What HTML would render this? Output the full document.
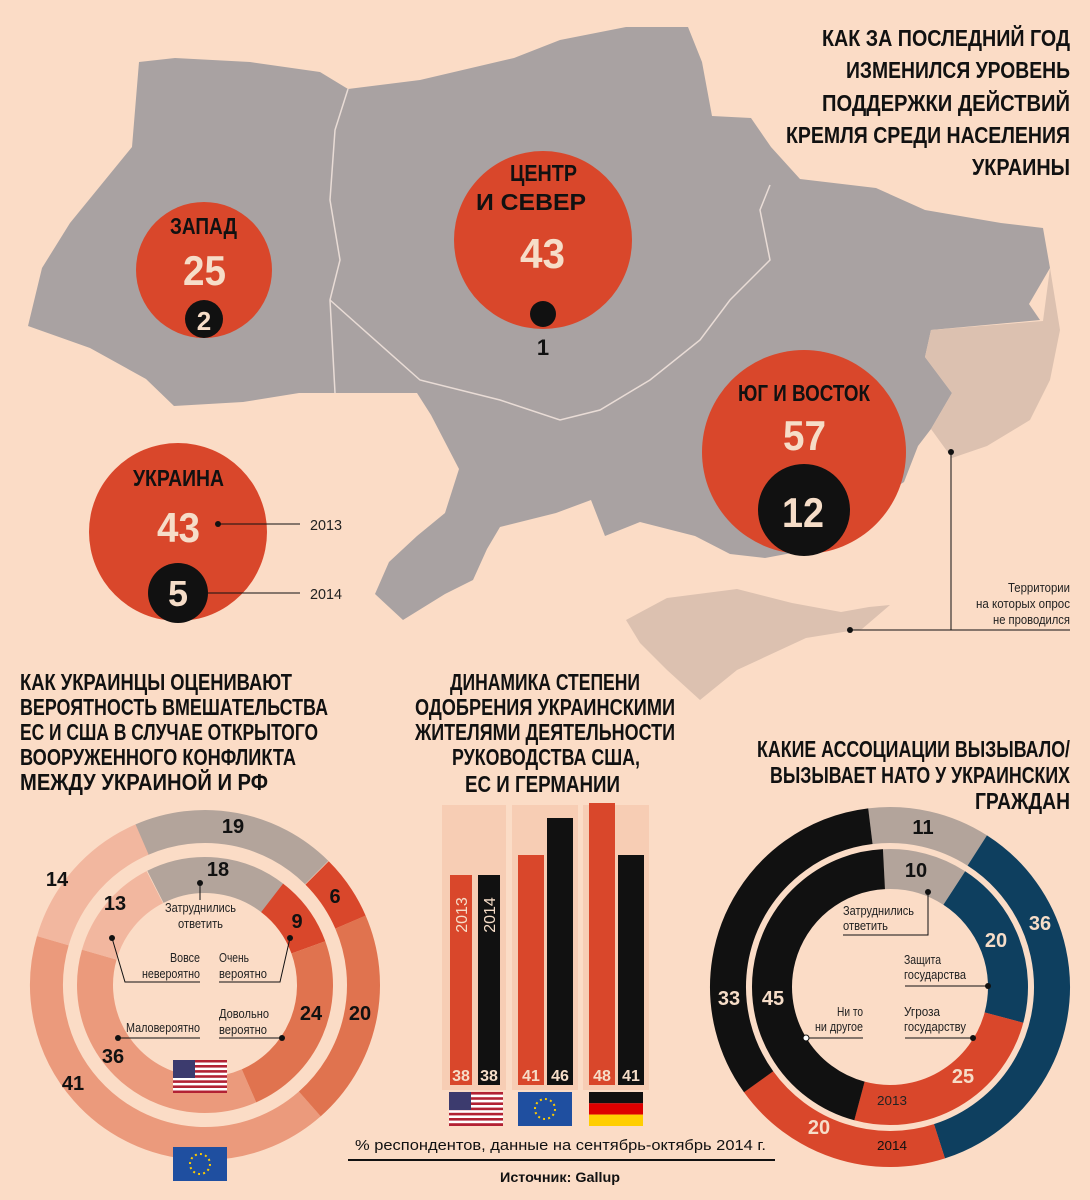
<!DOCTYPE html>
<html><head><meta charset="utf-8"><style>
body{margin:0;background:#fbdcc6;}
svg{display:block;font-family:"Liberation Sans",sans-serif;}
.h{font-size:23px;font-weight:bold;fill:#111;}
</style></head><body>
<svg width="1090" height="1200" viewBox="0 0 1090 1200" xmlns="http://www.w3.org/2000/svg">
<rect width="1090" height="1200" fill="#fbdcc6"/>
<!-- map -->
<polygon fill="#a9a2a2" points="139,62 175,58 250,62 320,72 348,89 420,80 514,58 560,40 626,27 688,27 702,62 712,116 751,118 771,147 800,179 876,188 925,210 1001,223 1043,228 1050,268 1029,304 1040,320 931,330 925,357 952,393 931,429 918,446 904,482 862,509 813,549 765,558 730,554 695,536 640,522 605,536 591,500 556,513 500,527 487,549 473,580 445,594 403,620 375,594 389,562 417,536 445,513 459,469 431,415 417,393 299,393 243,402 174,406 146,379 90,348 28,326 42,268 70,223 132,147"/>
<polygon fill="#dcc1b0" points="1043,321 1050,268 1060,330 1050,380 1030,420 987,446 952,458 931,429 952,393 925,357 931,330"/>
<polygon fill="#dcc1b0" points="626,620 667,598 737,589 792,603 841,612 869,607 890,605 862,629 806,638 737,670 700,700 667,670 640,643"/>
<polyline fill="none" stroke="#e9dcd6" stroke-width="1.5" points="348,89 335,130 330,200 340,260 330,300 335,393"/>
<polyline fill="none" stroke="#e9dcd6" stroke-width="1.5" points="330,300 420,380 500,400 560,420 600,410 650,380 700,340 730,300 770,260 760,210 770,185"/>
<!-- circles -->
<circle cx="204" cy="270" r="68" fill="#d9472b"/>
<circle cx="204" cy="319" r="19" fill="#111"/>
<text x="170" y="234" class="h" textLength="67" lengthAdjust="spacingAndGlyphs">ЗАПАД</text>
<text x="183" y="285" font-size="42" font-weight="bold" fill="#f6ddc8" textLength="43" lengthAdjust="spacingAndGlyphs">25</text>
<text x="204" y="330" font-size="26" font-weight="bold" fill="#f6ddc8" text-anchor="middle">2</text>
<circle cx="543" cy="240" r="89" fill="#d9472b"/>
<circle cx="543" cy="314" r="13" fill="#111"/>
<text x="510" y="181" class="h" textLength="67" lengthAdjust="spacingAndGlyphs">ЦЕНТР</text>
<text x="476" y="210" class="h" textLength="110" lengthAdjust="spacingAndGlyphs">И СЕВЕР</text>
<text x="520" y="268" font-size="42" font-weight="bold" fill="#f6ddc8" textLength="45" lengthAdjust="spacingAndGlyphs">43</text>
<text x="543" y="355" font-size="22" font-weight="bold" fill="#111" text-anchor="middle">1</text>
<circle cx="804" cy="452" r="102" fill="#d9472b"/>
<circle cx="804" cy="510" r="46" fill="#111"/>
<text x="738" y="401" class="h" textLength="132" lengthAdjust="spacingAndGlyphs">ЮГ И ВОСТОК</text>
<text x="783" y="450" font-size="42" font-weight="bold" fill="#f6ddc8" textLength="43" lengthAdjust="spacingAndGlyphs">57</text>
<text x="782" y="527" font-size="42" font-weight="bold" fill="#f6ddc8" textLength="42" lengthAdjust="spacingAndGlyphs">12</text>
<circle cx="178" cy="532" r="89" fill="#d9472b"/>
<circle cx="178" cy="593" r="30" fill="#111"/>
<text x="133" y="486" class="h" textLength="91" lengthAdjust="spacingAndGlyphs">УКРАИНА</text>
<text x="157" y="542" font-size="42" font-weight="bold" fill="#f6ddc8" textLength="43" lengthAdjust="spacingAndGlyphs">43</text>
<text x="178" y="606" font-size="36" font-weight="bold" fill="#f6ddc8" text-anchor="middle">5</text>
<circle cx="218" cy="524" r="3" fill="#111"/><line x1="218" y1="524" x2="300" y2="524" stroke="#111"/>
<line x1="205" y1="593" x2="300" y2="593" stroke="#111"/>
<text x="310" y="530" font-size="15" fill="#222" textLength="32" lengthAdjust="spacingAndGlyphs">2013</text>
<text x="310" y="599" font-size="15" fill="#222" textLength="32" lengthAdjust="spacingAndGlyphs">2014</text>
<!-- title -->
<g class="h" font-size="25">
<text x="822" y="46" textLength="248" lengthAdjust="spacingAndGlyphs">КАК ЗА ПОСЛЕДНИЙ ГОД</text>
<text x="846" y="78" textLength="224" lengthAdjust="spacingAndGlyphs">ИЗМЕНИЛСЯ УРОВЕНЬ</text>
<text x="822" y="111" textLength="248" lengthAdjust="spacingAndGlyphs">ПОДДЕРЖКИ ДЕЙСТВИЙ</text>
<text x="786" y="143" textLength="284" lengthAdjust="spacingAndGlyphs">КРЕМЛЯ СРЕДИ НАСЕЛЕНИЯ</text>
<text x="972" y="175" textLength="98" lengthAdjust="spacingAndGlyphs">УКРАИНЫ</text>
</g>
<g font-size="13" fill="#222">
<text x="1008" y="592" textLength="62" lengthAdjust="spacingAndGlyphs">Территории</text>
<text x="976" y="608" textLength="94" lengthAdjust="spacingAndGlyphs">на которых опрос</text>
<text x="993" y="624" textLength="77" lengthAdjust="spacingAndGlyphs">не проводился</text>
</g>
<circle cx="951" cy="452" r="3" fill="#111"/><circle cx="850" cy="630" r="3" fill="#111"/>
<polyline fill="none" stroke="#111" points="951,452 951,630 850,630"/><line x1="951" y1="630" x2="1070" y2="630" stroke="#111"/>
<!-- section headers -->
<g class="h">
<text x="20" y="690" textLength="272" lengthAdjust="spacingAndGlyphs">КАК УКРАИНЦЫ ОЦЕНИВАЮТ</text>
<text x="20" y="715" textLength="308" lengthAdjust="spacingAndGlyphs">ВЕРОЯТНОСТЬ ВМЕШАТЕЛЬСТВА</text>
<text x="20" y="740" textLength="298" lengthAdjust="spacingAndGlyphs">ЕС И США В СЛУЧАЕ ОТКРЫТОГО</text>
<text x="20" y="765" textLength="276" lengthAdjust="spacingAndGlyphs">ВООРУЖЕННОГО КОНФЛИКТА</text>
<text x="20" y="790" textLength="248" lengthAdjust="spacingAndGlyphs">МЕЖДУ УКРАИНОЙ И РФ</text>
</g>
<g class="h">
<text x="450" y="690" textLength="190" lengthAdjust="spacingAndGlyphs">ДИНАМИКА СТЕПЕНИ</text>
<text x="415" y="715" textLength="260" lengthAdjust="spacingAndGlyphs">ОДОБРЕНИЯ УКРАИНСКИМИ</text>
<text x="415" y="740" textLength="260" lengthAdjust="spacingAndGlyphs">ЖИТЕЛЯМИ ДЕЯТЕЛЬНОСТИ</text>
<text x="452" y="765" textLength="188" lengthAdjust="spacingAndGlyphs">РУКОВОДСТВА США,</text>
<text x="465" y="792" textLength="155" lengthAdjust="spacingAndGlyphs">ЕС И ГЕРМАНИИ</text>
</g>
<g class="h">
<text x="757" y="757" textLength="313" lengthAdjust="spacingAndGlyphs">КАКИЕ АССОЦИАЦИИ ВЫЗЫВАЛО/</text>
<text x="770" y="783" textLength="300" lengthAdjust="spacingAndGlyphs">ВЫЗЫВАЕТ НАТО У УКРАИНСКИХ</text>
<text x="975" y="809" textLength="95" lengthAdjust="spacingAndGlyphs">ГРАЖДАН</text>
</g>
<!-- left donut -->
<g transform="translate(205,985)" fill="none">
<circle r="158.5" stroke="#b3a49b" stroke-width="33" stroke-dasharray="189.2 2000" transform="rotate(-113.6)"/>
<circle r="158.5" stroke="#d9472b" stroke-width="33" stroke-dasharray="59.8 2000" transform="rotate(-45)"/>
<circle r="158.5" stroke="#e0734f" stroke-width="33" stroke-dasharray="199.2 2000" transform="rotate(-23.4)"/>
<circle r="158.5" stroke="#eb9a7c" stroke-width="33" stroke-dasharray="408.3 2000" transform="rotate(48.6)"/>
<circle r="158.5" stroke="#f2b79f" stroke-width="33" stroke-dasharray="139.4 2000" transform="rotate(196.2)"/>
<circle r="110" stroke="#b3a49b" stroke-width="36" stroke-dasharray="124.4 2000" transform="rotate(-116.8)"/>
<circle r="110" stroke="#d9472b" stroke-width="36" stroke-dasharray="62.2 2000" transform="rotate(-52.4)"/>
<circle r="110" stroke="#e0734f" stroke-width="36" stroke-dasharray="165.9 2000" transform="rotate(-20)"/>
<circle r="110" stroke="#eb9a7c" stroke-width="36" stroke-dasharray="248.8 2000" transform="rotate(66.4)"/>
<circle r="110" stroke="#f2b79f" stroke-width="36" stroke-dasharray="89.9 2000" transform="rotate(196)"/>
</g>
<g font-weight="bold" font-size="20" fill="#111" text-anchor="middle">
<text x="233" y="833">19</text><text x="335" y="903">6</text><text x="360" y="1020">20</text><text x="73" y="1090">41</text><text x="57" y="886">14</text>
<text x="218" y="876">18</text><text x="297" y="928">9</text><text x="311" y="1020">24</text><text x="113" y="1063">36</text><text x="115" y="910">13</text>
</g>
<g font-size="13" fill="#222">
<text x="165" y="912" textLength="71" lengthAdjust="spacingAndGlyphs">Затруднились</text><text x="178" y="928" textLength="45" lengthAdjust="spacingAndGlyphs">ответить</text>
<text x="170" y="962" textLength="30" lengthAdjust="spacingAndGlyphs">Вовсе</text><text x="142" y="978" textLength="58" lengthAdjust="spacingAndGlyphs">невероятно</text>
<text x="219" y="962" textLength="30" lengthAdjust="spacingAndGlyphs">Очень</text><text x="219" y="978" textLength="48" lengthAdjust="spacingAndGlyphs">вероятно</text>
<text x="219" y="1018" textLength="50" lengthAdjust="spacingAndGlyphs">Довольно</text><text x="219" y="1034" textLength="48" lengthAdjust="spacingAndGlyphs">вероятно</text>
<text x="126" y="1032" textLength="74" lengthAdjust="spacingAndGlyphs">Маловероятно</text>
</g>
<g stroke="#111" fill="none">
<polyline points="200,883 200,900"/><polyline points="112,938 125,982 200,982"/><polyline points="290,938 280,982 219,982"/><polyline points="282,1038 219,1038"/><polyline points="118,1038 200,1038"/>
</g>
<g fill="#111"><circle cx="200" cy="883" r="3"/><circle cx="112" cy="938" r="3"/><circle cx="290" cy="938" r="3"/><circle cx="282" cy="1038" r="3"/><circle cx="118" cy="1038" r="3"/></g>
<g transform="translate(173,1060)"><rect width="54" height="33" fill="#b22234"/>
<g fill="#fff"><rect y="2.5" width="54" height="2.5"/><rect y="7.6" width="54" height="2.5"/><rect y="12.7" width="54" height="2.5"/><rect y="17.8" width="54" height="2.5"/><rect y="22.9" width="54" height="2.5"/><rect y="28" width="54" height="2.5"/></g>
<rect width="22" height="18" fill="#3c3b6e"/></g>
<g transform="translate(173,1147)"><rect width="54" height="34" fill="#1f4fa0"/><circle cx="27" cy="17" r="10" fill="none" stroke="#ffcc00" stroke-width="2" stroke-dasharray="2 3.2"/></g>
<!-- bars -->
<g fill="#f7cdb4"><rect x="442" y="805" width="64" height="285"/><rect x="512" y="805" width="66" height="285"/><rect x="583" y="805" width="66" height="285"/></g>
<rect x="450" y="875" width="22" height="210" fill="#d9472b"/><rect x="478" y="875" width="22" height="210" fill="#111"/>
<rect x="518" y="855" width="26" height="230" fill="#d9472b"/><rect x="547" y="818" width="26" height="267" fill="#111"/>
<rect x="589" y="803" width="26" height="282" fill="#d9472b"/><rect x="618" y="855" width="26" height="230" fill="#111"/>
<text transform="translate(467,915) rotate(-90)" font-size="16" fill="#f6ddc8" text-anchor="middle">2013</text>
<text transform="translate(495,915) rotate(-90)" font-size="16" fill="#f6ddc8" text-anchor="middle">2014</text>
<g font-size="16" font-weight="bold" fill="#f6ddc8" text-anchor="middle">
<text x="461" y="1081">38</text><text x="489" y="1081">38</text><text x="531" y="1081">41</text><text x="560" y="1081">46</text><text x="602" y="1081">48</text><text x="631" y="1081">41</text></g>
<g transform="translate(449,1092)"><rect width="54" height="34" fill="#b22234"/>
<g fill="#fff"><rect y="2.6" width="54" height="2.6"/><rect y="7.8" width="54" height="2.6"/><rect y="13" width="54" height="2.6"/><rect y="18.2" width="54" height="2.6"/><rect y="23.4" width="54" height="2.6"/><rect y="28.6" width="54" height="2.6"/></g>
<rect width="22" height="18" fill="#3c3b6e"/></g>
<g transform="translate(518,1092)"><rect width="54" height="34" fill="#1f4fa0"/><circle cx="27" cy="17" r="10" fill="none" stroke="#ffcc00" stroke-width="2" stroke-dasharray="2 3.2"/></g>
<g transform="translate(589,1092)"><rect width="54" height="11.3" fill="#111"/><rect y="11.3" width="54" height="11.3" fill="#dd0000"/><rect y="22.6" width="54" height="11.4" fill="#ffce00"/></g>
<text x="355" y="1150" font-size="15" fill="#111" textLength="411" lengthAdjust="spacingAndGlyphs">% респондентов, данные на сентябрь-октябрь 2014 г.</text>
<line x1="348" y1="1160" x2="775" y2="1160" stroke="#111" stroke-width="2"/>
<text x="500" y="1182" font-size="14" font-weight="bold" fill="#111" textLength="120" lengthAdjust="spacingAndGlyphs">Источник: Gallup</text>
<!-- right donut -->
<g transform="translate(890,987)" fill="none">
<circle r="162" stroke="#b3a49b" stroke-width="36" stroke-dasharray="112 3000" transform="rotate(-97)"/>
<circle r="162" stroke="#0e3f5f" stroke-width="36" stroke-dasharray="366.4 3000" transform="rotate(-57.4)"/>
<circle r="162" stroke="#d9472b" stroke-width="36" stroke-dasharray="203.6 3000" transform="rotate(72.2)"/>
<circle r="162" stroke="#111" stroke-width="36" stroke-dasharray="335.9 3000" transform="rotate(144.2)"/>
<circle r="118" stroke="#b3a49b" stroke-width="40" stroke-dasharray="74.1 3000" transform="rotate(-93)"/>
<circle r="118" stroke="#0e3f5f" stroke-width="40" stroke-dasharray="148.3 3000" transform="rotate(-57)"/>
<circle r="118" stroke="#d9472b" stroke-width="40" stroke-dasharray="185.4 3000" transform="rotate(15)"/>
<circle r="118" stroke="#111" stroke-width="40" stroke-dasharray="333.6 3000" transform="rotate(105)"/>
</g>
<g font-weight="bold" font-size="20" fill="#f6ddc8" text-anchor="middle">
<text x="1040" y="930">36</text><text x="819" y="1134">20</text><text x="729" y="1005">33</text>
<text x="996" y="947">20</text><text x="963" y="1083">25</text><text x="773" y="1005">45</text>
</g>
<g font-weight="bold" font-size="20" fill="#111" text-anchor="middle"><text x="923" y="834">11</text><text x="916" y="877">10</text></g>
<g font-size="13" fill="#222">
<text x="843" y="915" textLength="71" lengthAdjust="spacingAndGlyphs">Затруднились</text><text x="843" y="930" textLength="45" lengthAdjust="spacingAndGlyphs">ответить</text>
<text x="904" y="964" textLength="37" lengthAdjust="spacingAndGlyphs">Защита</text><text x="904" y="979" textLength="62" lengthAdjust="spacingAndGlyphs">государства</text>
<text x="904" y="1016" textLength="36" lengthAdjust="spacingAndGlyphs">Угроза</text><text x="904" y="1031" textLength="62" lengthAdjust="spacingAndGlyphs">государству</text>
<text x="837" y="1016" textLength="26" lengthAdjust="spacingAndGlyphs">Ни то</text><text x="815" y="1031" textLength="48" lengthAdjust="spacingAndGlyphs">ни другое</text>
<text x="877" y="1105" fill="#222" textLength="30" lengthAdjust="spacingAndGlyphs">2013</text><text x="877" y="1150" fill="#111" textLength="30" lengthAdjust="spacingAndGlyphs">2014</text>
</g>
<g stroke="#111" fill="none"><polyline points="928,892 928,935 843,935"/><polyline points="988,986 905,986"/><polyline points="973,1038 905,1038"/><polyline points="806,1038 863,1038"/></g>
<g fill="#111"><circle cx="928" cy="892" r="3"/><circle cx="988" cy="986" r="3"/><circle cx="973" cy="1038" r="3"/></g>
<circle cx="806" cy="1038" r="3" fill="#fff" stroke="#111"/>
</svg>
</body></html>
